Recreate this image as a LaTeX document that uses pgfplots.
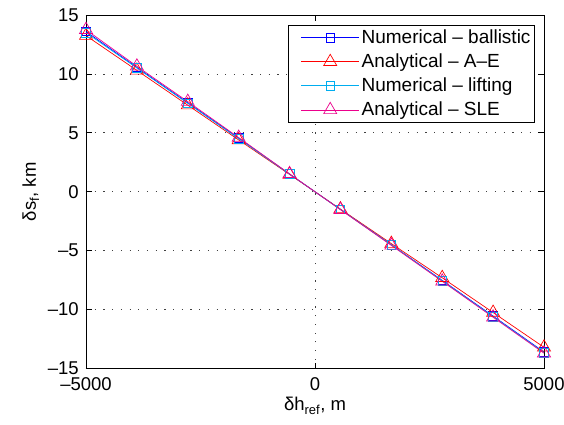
\documentclass[border=0pt]{standalone}
\usepackage{pgfplots}
\pgfplotsset{compat=1.18}
\usepackage{fontspec}
\setmainfont{Liberation Sans}
\begin{document}
\fontsize{18.5pt}{22pt}\selectfont
\begin{tikzpicture}
\useasboundingbox (-86pt,-55.5pt) rectangle (478pt,368.5pt);
\begin{axis}[
  at={(0pt,0pt)}, anchor=south west,
  scale only axis, width=458pt, height=353.5pt,
  xmin=-5000, xmax=5000, ymin=-15, ymax=15,
  xtick={-5000,0,5000}, ytick={-15,-10,-5,0,5,10,15},
  xticklabels={–5000,0,5000},
  yticklabels={–15,–10,–5,0,5,10,15},
  tick align=inside, tick pos=both,
  major tick length=6pt,
  grid=major, grid style={black!75, line width=0.7pt, dash pattern=on 1.2pt off 7.5pt},
  axis line style={line width=0.9pt},
  tick style={line width=0.7pt, black},
  ticklabel style={font=\fontsize{18.5pt}{22pt}\selectfont},
  xticklabel style={yshift=-3pt},
  yticklabel style={xshift=-1pt},
  xlabel={δh\textsubscript{ref}, m},
  ylabel={δs\textsubscript{f}, km},
  label style={font=\fontsize{18.5pt}{22pt}\selectfont},
  xlabel style={yshift=6pt},
  ylabel style={yshift=-4pt},
  legend style={at={(rel axis cs:0.9803,0.9717)}, anchor=north east,
    draw=black, line width=0.9pt, font=\fontsize{19pt}{22pt}\selectfont,
    inner xsep=2pt, inner ysep=2pt, row sep=3.5pt,
    cells={anchor=west}},
  legend image code/.code={\path (0pt,0pt); \draw[mark repeat=2,mark phase=2] plot coordinates {(10pt,0pt) (39pt,0pt) (68pt,0pt)};},
  every axis plot/.append style={line width=0.7pt},
]
\addplot[blue, mark=square, mark size=4.3pt, mark options={solid, line width=0.7pt}] coordinates {
(-5000,13.6) (-3888.9,10.55) (-2777.8,7.55) (-1666.7,4.55) (-555.6,1.5)
(555.6,-1.5) (1666.7,-4.5) (2777.8,-7.52) (3888.9,-10.55) (5000,-13.6)};
\addlegendentry{Numerical – ballistic}
\addplot[red, mark=triangle, mark size=7.5pt, mark options={solid, line width=0.7pt}] coordinates {
(-5000,13.25) (-3888.9,10.3) (-2777.8,7.35) (-1666.7,4.4) (-555.6,1.47)
(555.6,-1.47) (1666.7,-4.4) (2777.8,-7.3) (3888.9,-10.25) (5000,-13.2)};
\addlegendentry{Analytical – A–E}
\addplot[cyan, mark=square, mark size=4.3pt, mark options={solid, line width=0.7pt}] coordinates {
(-5000,13.5) (-3888.9,10.5) (-2777.8,7.5) (-1666.7,4.5) (-555.6,1.5)
(555.6,-1.5) (1666.7,-4.5) (2777.8,-7.55) (3888.9,-10.6) (5000,-13.65)};
\addlegendentry{Numerical – lifting}
\addplot[magenta, mark=triangle, mark size=7.5pt, mark options={solid, line width=0.7pt}] coordinates {
(-5000,13.75) (-3888.9,10.65) (-2777.8,7.65) (-1666.7,4.6) (-555.6,1.52)
(555.6,-1.52) (1666.7,-4.55) (2777.8,-7.6) (3888.9,-10.65) (5000,-13.7)};
\addlegendentry{Analytical – SLE}
\end{axis}
\end{tikzpicture}
\end{document}
